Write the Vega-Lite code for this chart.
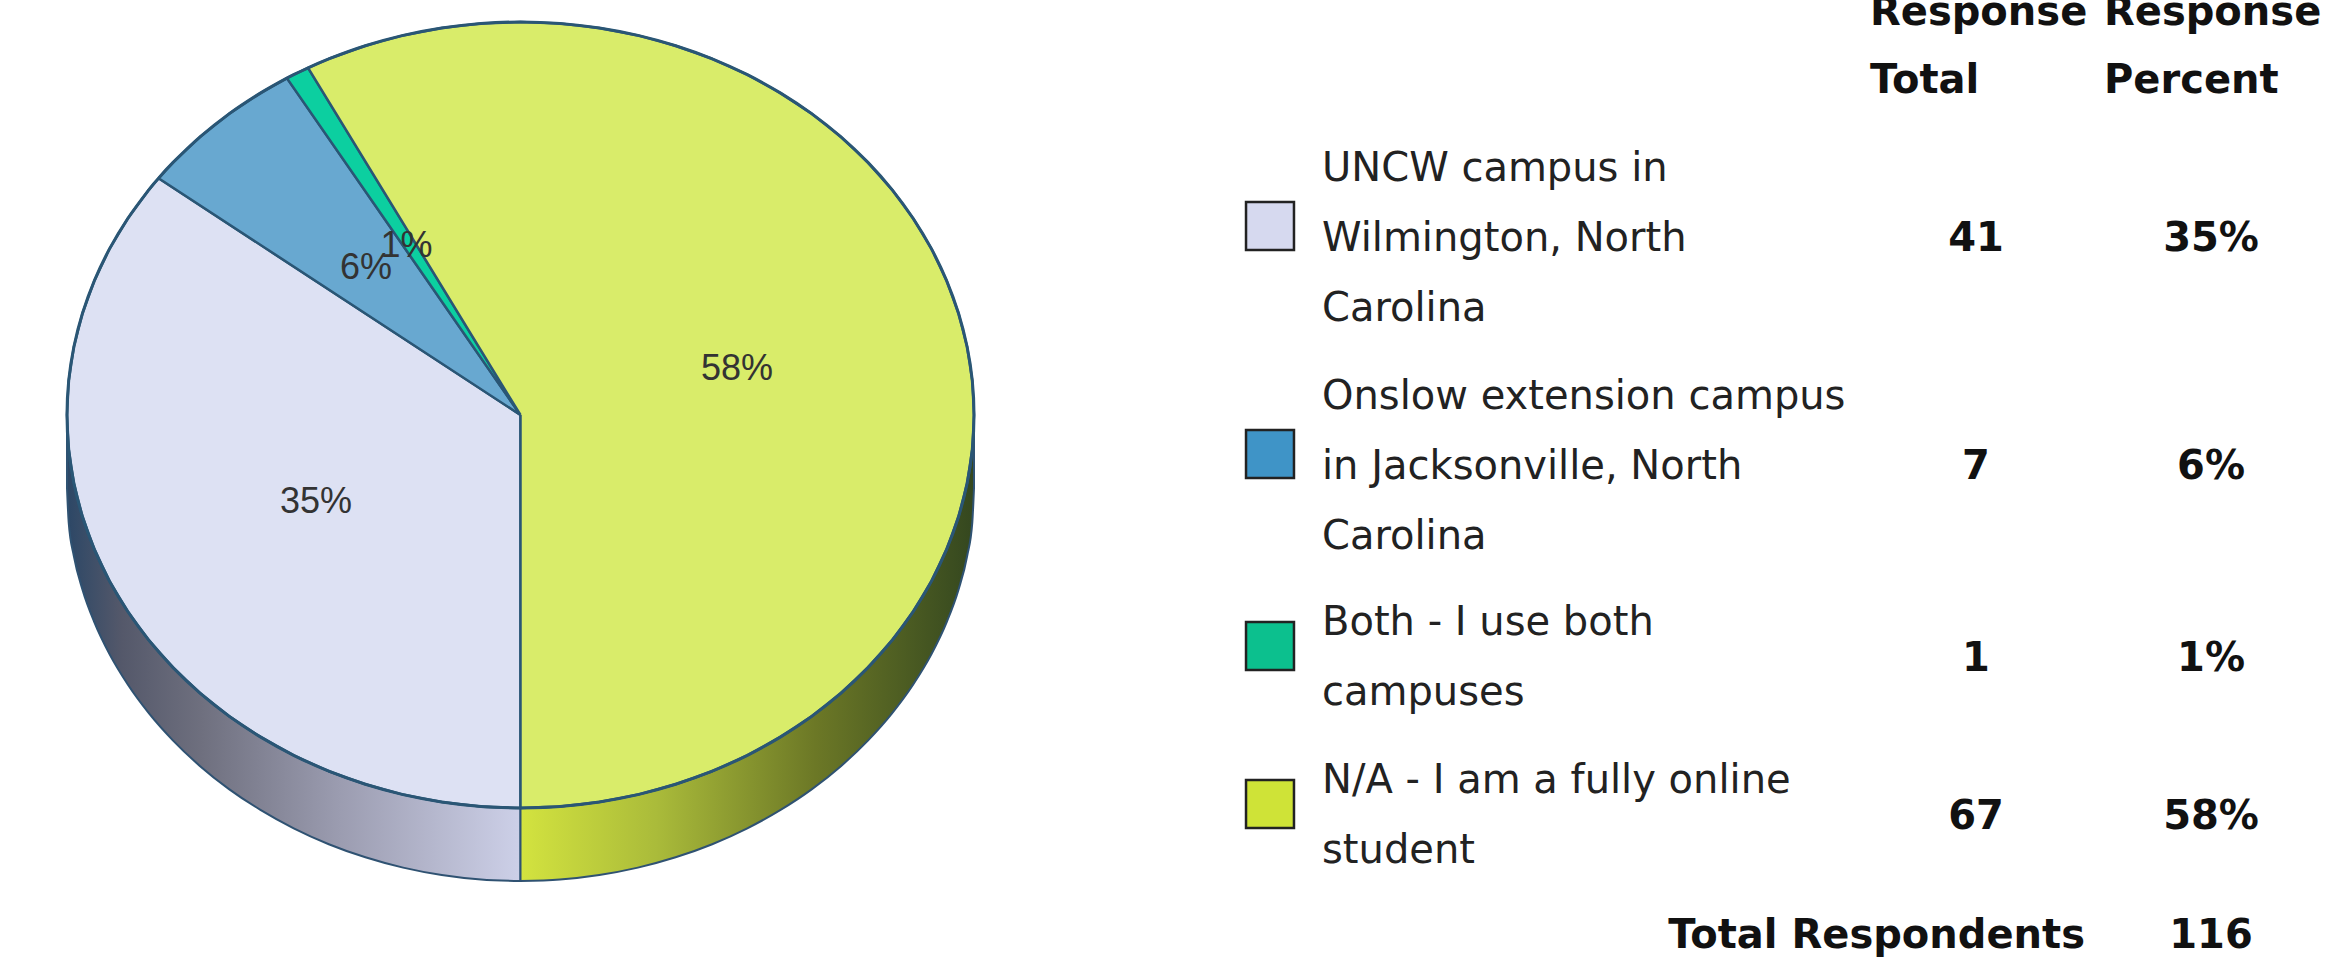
{"$schema":"https://vega.github.io/schema/vega-lite/v6.json","width":2335,"height":966,"padding":0,"autosize":{"type":"fit","contains":"padding"},"background":"white","config":{"view":{"stroke":null}},
"datasets":{
"walls":[
{"wall":"left","x":67,"y":415,"y2":488},{"wall":"left","x":68.7,"y":449.3,"y2":522.3},{"wall":"left","x":73.9,"y":483.2,"y2":556.2},{"wall":"left","x":82.5,"y":516.7,"y2":589.7},{"wall":"left","x":94.4,"y":549.4,"y2":622.4},{"wall":"left","x":109.5,"y":581.1,"y2":654.1},{"wall":"left","x":127.8,"y":611.5,"y2":684.5},{"wall":"left","x":149,"y":640.4,"y2":713.4},{"wall":"left","x":173.1,"y":667.6,"y2":740.6},{"wall":"left","x":199.8,"y":692.9,"y2":765.9},{"wall":"left","x":229,"y":716.1,"y2":789.1},{"wall":"left","x":260.4,"y":736.9,"y2":809.9},{"wall":"left","x":293.7,"y":755.3,"y2":828.3},{"wall":"left","x":328.8,"y":771.2,"y2":844.2},{"wall":"left","x":365.4,"y":784.3,"y2":857.3},{"wall":"left","x":403.1,"y":794.6,"y2":867.6},{"wall":"left","x":441.7,"y":802,"y2":875},{"wall":"left","x":481,"y":806.5,"y2":879.5},{"wall":"left","x":520.5,"y":808,"y2":881},
{"wall":"right","x":520.5,"y":808,"y2":881},{"wall":"right","x":560,"y":806.5,"y2":879.5},{"wall":"right","x":599.3,"y":802,"y2":875},{"wall":"right","x":637.9,"y":794.6,"y2":867.6},{"wall":"right","x":675.6,"y":784.3,"y2":857.3},{"wall":"right","x":712.2,"y":771.2,"y2":844.2},{"wall":"right","x":747.3,"y":755.3,"y2":828.3},{"wall":"right","x":780.6,"y":736.9,"y2":809.9},{"wall":"right","x":812,"y":716.1,"y2":789.1},{"wall":"right","x":841.2,"y":692.9,"y2":765.9},{"wall":"right","x":867.9,"y":667.6,"y2":740.6},{"wall":"right","x":892,"y":640.4,"y2":713.4},{"wall":"right","x":913.2,"y":611.5,"y2":684.5},{"wall":"right","x":931.5,"y":581.1,"y2":654.1},{"wall":"right","x":946.6,"y":549.4,"y2":622.4},{"wall":"right","x":958.5,"y":516.7,"y2":589.7},{"wall":"right","x":967.1,"y":483.2,"y2":556.2},{"wall":"right","x":972.3,"y":449.3,"y2":522.3},{"wall":"right","x":974,"y":415,"y2":488}],
"slices":[
{"c":"UNCW","o":0,"x":520.5,"y":415},{"c":"UNCW","o":1,"x":520.5,"y":808},{"c":"UNCW","o":2,"x":481,"y":806.5},{"c":"UNCW","o":3,"x":441.7,"y":802},{"c":"UNCW","o":4,"x":403.1,"y":794.6},{"c":"UNCW","o":5,"x":365.4,"y":784.3},{"c":"UNCW","o":6,"x":328.8,"y":771.2},{"c":"UNCW","o":7,"x":293.7,"y":755.3},{"c":"UNCW","o":8,"x":260.4,"y":736.9},{"c":"UNCW","o":9,"x":229,"y":716.1},{"c":"UNCW","o":10,"x":199.8,"y":692.9},{"c":"UNCW","o":11,"x":173.1,"y":667.6},{"c":"UNCW","o":12,"x":149,"y":640.4},{"c":"UNCW","o":13,"x":127.8,"y":611.5},{"c":"UNCW","o":14,"x":109.5,"y":581.1},{"c":"UNCW","o":15,"x":94.4,"y":549.4},{"c":"UNCW","o":16,"x":82.5,"y":516.7},{"c":"UNCW","o":17,"x":73.9,"y":483.2},{"c":"UNCW","o":18,"x":68.7,"y":449.3},{"c":"UNCW","o":19,"x":67,"y":415},{"c":"UNCW","o":20,"x":68.7,"y":380.7},{"c":"UNCW","o":21,"x":73.9,"y":346.8},{"c":"UNCW","o":22,"x":82.5,"y":313.3},{"c":"UNCW","o":23,"x":94.4,"y":280.6},{"c":"UNCW","o":24,"x":109.5,"y":248.9},{"c":"UNCW","o":25,"x":127.8,"y":218.5},{"c":"UNCW","o":26,"x":149,"y":189.6},{"c":"UNCW","o":27,"x":158.6,"y":178.2},{"c":"UNCW","o":28,"x":520.5,"y":415},
{"c":"Onslow","o":0,"x":520.5,"y":415},{"c":"Onslow","o":1,"x":158.6,"y":178.2},{"c":"Onslow","o":2,"x":173.1,"y":162.4},{"c":"Onslow","o":3,"x":199.8,"y":137.1},{"c":"Onslow","o":4,"x":229,"y":113.9},{"c":"Onslow","o":5,"x":260.4,"y":93.1},{"c":"Onslow","o":6,"x":286.9,"y":78.1},{"c":"Onslow","o":7,"x":520.5,"y":415},
{"c":"Both","o":0,"x":520.5,"y":415},{"c":"Both","o":1,"x":286.9,"y":78.1},{"c":"Both","o":2,"x":293.7,"y":74.7},{"c":"Both","o":3,"x":308.1,"y":67.8},{"c":"Both","o":4,"x":520.5,"y":415},
{"c":"N/A","o":0,"x":520.5,"y":415},{"c":"N/A","o":1,"x":308.1,"y":67.8},{"c":"N/A","o":2,"x":328.8,"y":58.8},{"c":"N/A","o":3,"x":365.4,"y":45.7},{"c":"N/A","o":4,"x":403.1,"y":35.4},{"c":"N/A","o":5,"x":441.7,"y":28},{"c":"N/A","o":6,"x":481,"y":23.5},{"c":"N/A","o":7,"x":520.5,"y":22},{"c":"N/A","o":8,"x":560,"y":23.5},{"c":"N/A","o":9,"x":599.3,"y":28},{"c":"N/A","o":10,"x":637.9,"y":35.4},{"c":"N/A","o":11,"x":675.6,"y":45.7},{"c":"N/A","o":12,"x":712.2,"y":58.8},{"c":"N/A","o":13,"x":747.3,"y":74.7},{"c":"N/A","o":14,"x":780.6,"y":93.1},{"c":"N/A","o":15,"x":812,"y":113.9},{"c":"N/A","o":16,"x":841.2,"y":137.1},{"c":"N/A","o":17,"x":867.9,"y":162.4},{"c":"N/A","o":18,"x":892,"y":189.6},{"c":"N/A","o":19,"x":913.2,"y":218.5},{"c":"N/A","o":20,"x":931.5,"y":248.9},{"c":"N/A","o":21,"x":946.6,"y":280.6},{"c":"N/A","o":22,"x":958.5,"y":313.3},{"c":"N/A","o":23,"x":967.1,"y":346.8},{"c":"N/A","o":24,"x":972.3,"y":380.7},{"c":"N/A","o":25,"x":974,"y":415},{"c":"N/A","o":26,"x":972.3,"y":449.3},{"c":"N/A","o":27,"x":967.1,"y":483.2},{"c":"N/A","o":28,"x":958.5,"y":516.7},{"c":"N/A","o":29,"x":946.6,"y":549.4},{"c":"N/A","o":30,"x":931.5,"y":581.1},{"c":"N/A","o":31,"x":913.2,"y":611.5},{"c":"N/A","o":32,"x":892,"y":640.4},{"c":"N/A","o":33,"x":867.9,"y":667.6},{"c":"N/A","o":34,"x":841.2,"y":692.9},{"c":"N/A","o":35,"x":812,"y":716.1},{"c":"N/A","o":36,"x":780.6,"y":736.9},{"c":"N/A","o":37,"x":747.3,"y":755.3},{"c":"N/A","o":38,"x":712.2,"y":771.2},{"c":"N/A","o":39,"x":675.6,"y":784.3},{"c":"N/A","o":40,"x":637.9,"y":794.6},{"c":"N/A","o":41,"x":599.3,"y":802},{"c":"N/A","o":42,"x":560,"y":806.5},{"c":"N/A","o":43,"x":520.5,"y":808},{"c":"N/A","o":44,"x":520.5,"y":415}],
"pieLabels":[{"t":"58%","x":737,"y":369},{"t":"35%","x":316,"y":502},{"t":"6%","x":366,"y":268},{"t":"1%","x":406.5,"y":246}],
"rows":[
{"c":"UNCW","label":"UNCW campus in\nWilmington, North\nCarolina","total":41,"percent":"35%","row":2,"labelRow":7},
{"c":"Onslow","label":"Onslow extension campus\nin Jacksonville, North\nCarolina","total":7,"percent":"6%","row":3,"labelRow":8},
{"c":"Both","label":"Both - I use both\ncampuses","total":1,"percent":"1%","row":4,"labelRow":9},
{"c":"N/A","label":"N/A - I am a fully online\nstudent","total":67,"percent":"58%","row":5,"labelRow":10}],
"headers":[{"t":"Response","col":2,"row":0},{"t":"Total","col":2,"row":1},{"t":"Response","col":5,"row":0},{"t":"Percent","col":5,"row":1}]
},
"resolve":{"scale":{"x":"independent","y":"independent","fill":"independent"}},
"layer":[
{"encoding":{
"x":{"field":"x","type":"quantitative","axis":null,"scale":{"domain":[0,2335],"range":[0,2335],"nice":false,"zero":false}},
"y":{"field":"y","type":"quantitative","axis":null,"scale":{"domain":[0,966],"range":[0,966],"nice":false,"zero":false}}},
"layer":[
{"data":{"name":"walls"},"transform":[{"filter":"datum.wall==='left'"}],
"mark":{"type":"area","interpolate":"monotone","stroke":"#2f5272","strokeWidth":2,"fill":{"gradient":"linear","x1":0,"x2":1,"y1":0,"y2":0,"stops":[{"offset":0,"color":"#2c4766"},{"offset":0.12,"color":"#54586a"},{"offset":0.3,"color":"#6f707f"},{"offset":0.6,"color":"#9b9cb0"},{"offset":1,"color":"#cdd0e8"}]}},
"encoding":{"y2":{"field":"y2"}}},
{"data":{"name":"walls"},"transform":[{"filter":"datum.wall==='right'"}],
"mark":{"type":"area","interpolate":"monotone","stroke":"#2f5272","strokeWidth":2,"fill":{"gradient":"linear","x1":0,"x2":1,"y1":0,"y2":0,"stops":[{"offset":0,"color":"#d3e33f"},{"offset":0.3,"color":"#aabb3a"},{"offset":0.65,"color":"#6c7826"},{"offset":1,"color":"#34471f"}]}},
"encoding":{"y2":{"field":"y2"}}},
{"data":{"name":"slices"},
"mark":{"type":"line","stroke":"#2a5675","strokeWidth":2.5,"strokeJoin":"round","interpolate":"linear"},
"encoding":{"order":{"field":"o","type":"quantitative"},"detail":{"field":"c"},
"fill":{"field":"c","type":"nominal","legend":null,"scale":{"domain":["UNCW","Onslow","Both","N/A"],"range":["#dde1f3","#68a8d0","#0ccfa0","#d9ec6a"]}}}},
{"data":{"name":"slices"},"transform":[{"filter":"datum.y!==415||datum.x!==520.5"}],
"mark":{"type":"line","stroke":"#2a5675","strokeWidth":3,"interpolate":"cardinal","fill":null},
"encoding":{"order":{"field":"o","type":"quantitative"},"detail":{"field":"c"}}},
{"data":{"name":"pieLabels"},
"mark":{"type":"text","font":"Liberation Sans","fontSize":36,"fill":"#333333","align":"center","baseline":"middle"},
"encoding":{"text":{"field":"t"}}}
]},
{"encoding":{
"y":{"field":"row","type":"quantitative","axis":null,"scale":{"domain":[0,1,2,3,4,5,6,7,8,9,10],"range":[13,81,239,467,659,817,936,169,397,623,781],"nice":false,"zero":false}}},
"layer":[
{"data":{"name":"rows"},"mark":{"type":"point","shape":"square","filled":true,"size":2300,"stroke":"#222222","strokeWidth":2.5,"opacity":1,"yOffset":-13},
"encoding":{"x":{"datum":0,"type":"quantitative","axis":null,"scale":{"domain":[0,1,2,3,4,5,6],"range":[1270,1322,1870,1976,2085,2104,2211],"nice":false,"zero":false}},
"fill":{"field":"c","type":"nominal","legend":null,"scale":{"domain":["UNCW","Onslow","Both","N/A"],"range":["#d6d9ef","#3f94c7","#0cc08e","#cfe337"]}}}},
{"data":{"name":"rows"},"mark":{"type":"text","font":"DejaVu Sans","fontSize":40,"fill":"#222222","align":"left","baseline":"middle","lineBreak":"\n","lineHeight":70},
"encoding":{"x":{"datum":1,"type":"quantitative"},"y":{"field":"labelRow","type":"quantitative"},"text":{"field":"label"}}},
{"data":{"name":"rows"},"mark":{"type":"text","font":"DejaVu Sans","fontWeight":"bold","fontSize":40,"fill":"#111111","align":"center","baseline":"middle"},
"encoding":{"x":{"datum":3,"type":"quantitative"},"text":{"field":"total","type":"quantitative"}}},
{"data":{"name":"rows"},"mark":{"type":"text","font":"DejaVu Sans","fontWeight":"bold","fontSize":40,"fill":"#111111","align":"center","baseline":"middle"},
"encoding":{"x":{"datum":6,"type":"quantitative"},"text":{"field":"percent"}}},
{"data":{"name":"headers"},"mark":{"type":"text","font":"DejaVu Sans","fontWeight":"bold","fontSize":40,"fill":"#111111","align":"left","baseline":"middle","clip":true},
"encoding":{"x":{"field":"col","type":"quantitative"},"text":{"field":"t"}}},
{"data":{"values":[{"t":"Total Respondents","row":6}]},"mark":{"type":"text","font":"DejaVu Sans","fontWeight":"bold","fontSize":40,"fill":"#111111","align":"right","baseline":"middle"},
"encoding":{"x":{"datum":4,"type":"quantitative"},"text":{"field":"t"}}},
{"data":{"values":[{"t":"116","row":6}]},"mark":{"type":"text","font":"DejaVu Sans","fontWeight":"bold","fontSize":40,"fill":"#111111","align":"center","baseline":"middle"},
"encoding":{"x":{"datum":6,"type":"quantitative"},"text":{"field":"t"}}}
]}
]}
